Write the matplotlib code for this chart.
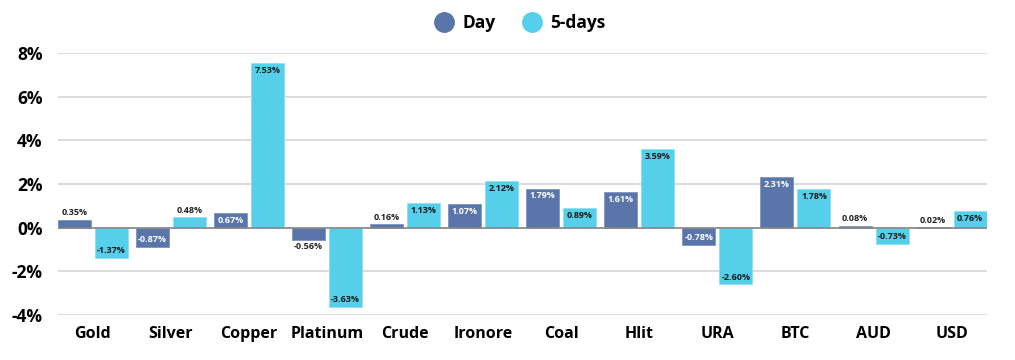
import numpy as np
import matplotlib
matplotlib.use("Agg")
import matplotlib.pyplot as plt
from matplotlib.lines import Line2D

categories = ["Gold", "Silver", "Copper", "Platinum", "Crude", "Ironore",
              "Coal", "Hlit", "URA", "BTC", "AUD", "USD"]
day = [0.35, -0.87, 0.67, -0.56, 0.16, 1.07, 1.79, 1.61, -0.78, 2.31, 0.08, 0.02]
five_days = [-1.37, 0.48, 7.53, -3.63, 1.13, 2.12, 0.89, 3.59, -2.60, 1.78, -0.73, 0.76]

DAY_COLOR = "#5a75aa"
FIVE_COLOR = "#55cfea"

plt.rcParams["font.family"] = ["Open Sans", "DejaVu Sans"]

fig = plt.figure(figsize=(10.15, 3.6), dpi=100)
ax = fig.add_axes([0.057, 0.125, 0.915, 0.728])

x = np.arange(len(categories))
w = 0.4225
gap = 0.0256
b1 = ax.bar(x - w / 2 - gap, day, w, color=DAY_COLOR, zorder=3,
            edgecolor="#7d93c0", linewidth=0.6)
b2 = ax.bar(x + w / 2 + gap, five_days, w, color=FIVE_COLOR, zorder=3,
            edgecolor="#8fe0f2", linewidth=0.6)


def label_bars(bars, values, inside_color):
    for rect, v in zip(bars, values):
        cx = rect.get_x() + rect.get_width() / 2
        txt = f"{v:.2f}%"
        if abs(v) >= 0.6:
            # label inside the bar, near its end
            y = v - 0.13 if v > 0 else v + 0.13
            va = "top" if v > 0 else "bottom"
            ax.text(cx, y, txt, ha="center", va=va, fontsize=6.5,
                    fontweight="bold", color=inside_color, zorder=4)
        else:
            y = v + 0.12 if v >= 0 else v - 0.12
            va = "bottom" if v >= 0 else "top"
            ax.text(cx, y, txt, ha="center", va=va, fontsize=6.5,
                    fontweight="bold", color="#222222", zorder=4)


label_bars(b1, day, "white")
label_bars(b2, five_days, "#1a1a1a")

ax.set_ylim(-4, 8)
ax.set_xlim(-w - gap, len(categories) - 1 + w + gap)
ax.set_yticks([-4, -2, 0, 2, 4, 6, 8])
ax.set_yticklabels([f"{t}%" for t in [-4, -2, 0, 2, 4, 6, 8]],
                   fontsize=12.5, fontweight="bold")
ax.set_xticks(x)
ax.set_xticklabels(categories, fontsize=11.5, fontweight="bold")
ax.tick_params(length=0, pad=8)
ax.tick_params(axis="y", pad=11)
ax.grid(axis="y", color="#d5d5d5", linewidth=1.2, zorder=0)
ax.axhline(0, color="#888888", linewidth=1.2, zorder=3.5)
for s in ax.spines.values():
    s.set_visible(False)

handles = [Line2D([], [], marker="o", linestyle="", markersize=14,
                  markerfacecolor=DAY_COLOR, markeredgecolor=DAY_COLOR, label="Day"),
           Line2D([], [], marker="o", linestyle="", markersize=14,
                  markerfacecolor=FIVE_COLOR, markeredgecolor=FIVE_COLOR, label="5-days")]
leg = fig.legend(handles=handles, loc="center", bbox_to_anchor=(0.512, 0.935),
                 ncol=2, frameon=False, handletextpad=0.45, columnspacing=1.5,
                 handlelength=1.2, prop={"weight": "bold", "size": 12.5})

fig.savefig("out.png", dpi=100)
